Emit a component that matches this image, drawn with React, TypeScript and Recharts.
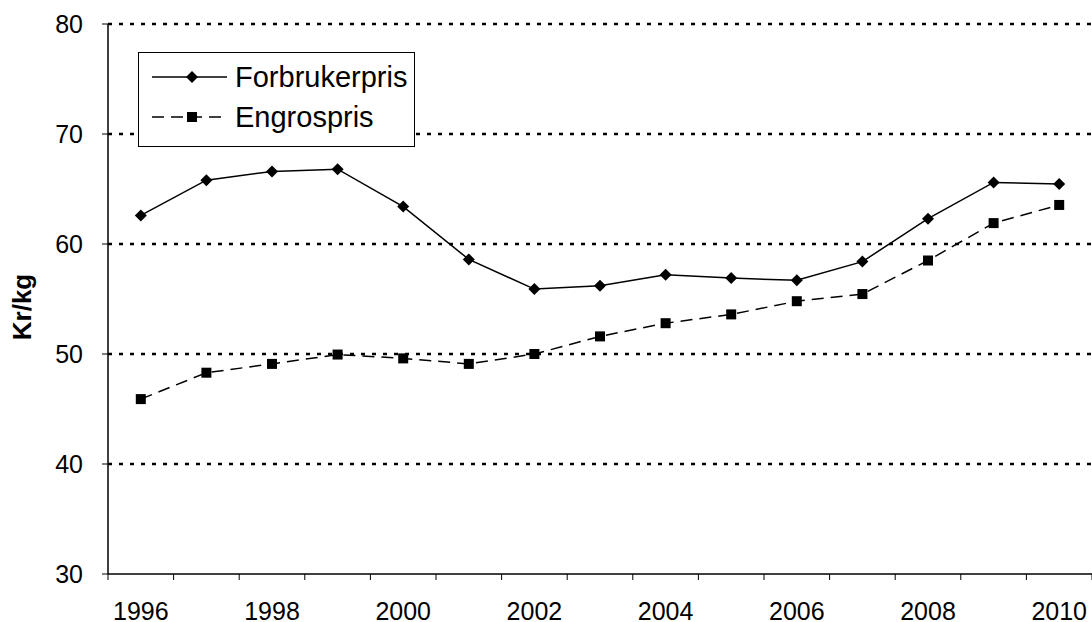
import React from 'react';
import {
  LineChart,
  Line,
  XAxis,
  YAxis,
  CartesianGrid,
  Legend,
} from 'recharts';

const years = [1996, 1997, 1998, 1999, 2000, 2001, 2002, 2003, 2004, 2005, 2006, 2007, 2008, 2009, 2010];
const forbrukerpris = [62.6, 65.8, 66.6, 66.8, 63.4, 58.6, 55.9, 56.2, 57.2, 56.9, 56.7, 58.4, 62.3, 65.6, 65.45];
const engrospris = [45.9, 48.3, 49.1, 49.95, 49.6, 49.1, 50.0, 51.6, 52.8, 53.6, 54.8, 55.45, 58.5, 61.9, 63.55];
const seriesOrder = ['forbrukerpris', 'engrospris'];
const yTicks = [30, 40, 50, 60, 70, 80];
const gridValues = yTicks.slice(1);
const labelYears = years.filter((_, i) => i % 2 === 0);
const boundaries = [...years.map((y) => y - 0.5), years[years.length - 1] + 0.5];

const data = years.map((year, i) => ({
  year,
  forbrukerpris: forbrukerpris[i],
  engrospris: engrospris[i],
}));

const FONT = '"Liberation Sans", Arial, sans-serif';
const xDomain = [boundaries[0], boundaries[boundaries.length - 1]];

const Diamond = (props: any) => {
  const { cx, cy } = props;
  if (cx == null || cy == null) return null;
  const r = 6;
  return <polygon points={`${cx},${cy - r} ${cx + r},${cy} ${cx},${cy + r} ${cx - r},${cy}`} fill="#000" />;
};

const Square = (props: any) => {
  const { cx, cy } = props;
  if (cx == null || cy == null) return null;
  return <rect x={cx - 5} y={cy - 5} width={10} height={10} fill="#000" />;
};

const LegendIcon = ({ dashed }: { dashed: boolean }) => (
  <svg width={75} height={20} style={{ display: 'block' }}>
    <line
      x1={0}
      y1={10}
      x2={75}
      y2={10}
      stroke="#000"
      strokeWidth={1.5}
      strokeDasharray={dashed ? '12 7' : undefined}
    />
    {dashed ? (
      <rect x={35} y={5} width={10} height={10} fill="#000" />
    ) : (
      <polygon points="40,4 46,10 40,16 34,10" fill="#000" />
    )}
  </svg>
);

const renderLegend = (props: any) => {
  const payload = [...(props.payload || [])].sort(
    (a: any, b: any) => seriesOrder.indexOf(a.dataKey) - seriesOrder.indexOf(b.dataKey)
  );
  return (
    <div style={{ paddingTop: 4 }}>
      {payload.map((entry: any) => (
        <div
          key={entry.value}
          style={{ display: 'flex', alignItems: 'center', height: 40, paddingLeft: 13 }}
        >
          <LegendIcon dashed={entry.dataKey === 'engrospris'} />
          <span style={{ marginLeft: 8, fontSize: 29, fontFamily: FONT, color: '#000' }}>
            {entry.value}
          </span>
        </div>
      ))}
    </div>
  );
};

export default function App() {
  return (
    <div style={{ position: 'absolute', left: 0, top: 0, background: '#fff' }}>
      <LineChart
        width={1092}
        height={622}
        data={data}
        margin={{ top: 24, right: 0, bottom: 0, left: 0 }}
      >
        <CartesianGrid
          horizontal
          vertical={false}
          horizontalValues={gridValues}
          stroke="#000"
          strokeWidth={2.5}
          strokeDasharray="4 7"
        />
        {/* tick marks sit on category boundaries */}
        <XAxis
          xAxisId="axis"
          dataKey="year"
          type="number"
          domain={xDomain}
          allowDataOverflow
          ticks={boundaries}
          interval={0}
          tickFormatter={() => ''}
          tickSize={6}
          height={1}
          axisLine={{ stroke: '#000', strokeWidth: 1.5 }}
          tickLine={{ stroke: '#000' }}
        />
        {/* year labels sit at category centres */}
        <XAxis
          xAxisId="labels"
          dataKey="year"
          type="number"
          domain={xDomain}
          allowDataOverflow
          ticks={labelYears}
          interval={0}
          height={47}
          axisLine={false}
          tickLine={false}
          tickSize={6}
          tickMargin={21}
          tick={{ fontSize: 25, fill: '#000', fontFamily: FONT }}
        />
        <YAxis
          domain={[30, 80]}
          ticks={yTicks}
          interval={0}
          width={108}
          tickSize={6}
          tickMargin={19}
          axisLine={{ stroke: '#000', strokeWidth: 1.5 }}
          tickLine={{ stroke: '#000' }}
          tick={{ fontSize: 25, fill: '#000', fontFamily: FONT }}
          label={{
            content: () => (
              <text
                x={22}
                y={307}
                transform="rotate(-90 22 307)"
                textAnchor="middle"
                dominantBaseline="central"
                fontSize={26}
                fontWeight="bold"
                fontFamily={FONT}
                fill="#000"
              >
                Kr/kg
              </text>
            ),
          }}
        />
        <Legend
          layout="horizontal"
          verticalAlign="middle"
          align="center"
          content={renderLegend}
          wrapperStyle={{
            position: 'absolute',
            left: 138,
            top: 52,
            width: 277,
            height: 95,
            border: '1px solid #000',
            background: '#fff',
            boxSizing: 'border-box',
          }}
        />
        <Line
          xAxisId="axis"
          dataKey="forbrukerpris"
          name="Forbrukerpris"
          type="linear"
          stroke="#000"
          strokeWidth={1.5}
          dot={<Diamond />}
          activeDot={false}
          isAnimationActive={false}
        />
        <Line
          xAxisId="axis"
          dataKey="engrospris"
          name="Engrospris"
          type="linear"
          stroke="#000"
          strokeWidth={1.5}
          strokeDasharray="12 7"
          dot={<Square />}
          activeDot={false}
          isAnimationActive={false}
        />
      </LineChart>
    </div>
  );
}
